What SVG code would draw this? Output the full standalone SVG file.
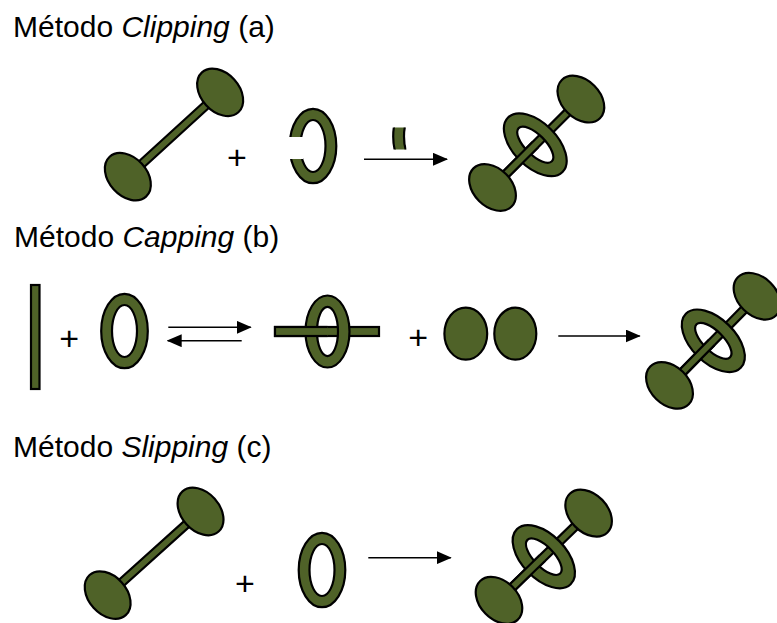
<svg xmlns="http://www.w3.org/2000/svg" xmlns:xlink="http://www.w3.org/1999/xlink" width="777" height="623" viewBox="0 0 777 623">
  <style>
    .g { fill: #4F6228; stroke: #000; stroke-width: 2.2; }
    .ring { fill: #4F6228; fill-rule: evenodd; stroke: #000; stroke-width: 2.2; }
    .lbl { font-family: "Liberation Sans", Arial, sans-serif; font-size: 30px; fill: #000; }
    .plus { font-family: "Liberation Sans", Arial, sans-serif; font-size: 34px; fill: #000; text-anchor: middle; }
    .arrow { fill: none; stroke: #000; stroke-width: 1.4; marker-end: url(#ah); }
  </style>
  <defs>
    <marker id="ah" viewBox="0 0 15 13" refX="14" refY="6.5" markerWidth="15" markerHeight="13" markerUnits="userSpaceOnUse" orient="auto">
      <path d="M0,0 L15,6.5 L0,13 Z" fill="#000"/>
    </marker>
    <!-- upright ring, centred on the origin -->
    <path id="ringU" class="ring" d="M-23.3,0 a23.3,37.2 0 1,0 46.6,0 a23.3,37.2 0 1,0 -46.6,0 Z M-12.5,0 a12.5,26 0 1,0 25,0 a12.5,26 0 1,0 -25,0 Z"/>
    <!-- ring threaded on an axle, in axle-aligned coordinates -->
    <path id="ringT" class="ring" d="M-22,0 a22,38.5 0 1,0 44,0 a22,38.5 0 1,0 -44,0 Z M-10,0 a10,23.5 0 1,0 20,0 a10,23.5 0 1,0 -20,0 Z"/>
    <rect id="axle" class="g" x="-62.5" y="-3.9" width="125" height="7.8"/>
    <ellipse id="cap" class="g" rx="19" ry="27"/>
    <clipPath id="leftHalf"><rect x="-100" y="-60" width="98" height="120"/></clipPath>
    <clipPath id="leftHalfB"><rect x="260" y="300" width="67.5" height="60"/></clipPath>
    <clipPath id="gapClip"><rect x="286" y="137" width="17" height="22"/></clipPath>
  </defs>

  <!-- section titles -->
  <text class="lbl" x="13" y="37">Método <tspan font-style="italic">Clipping</tspan> (a)</text>
  <text class="lbl" x="14" y="247">Método <tspan font-style="italic">Capping</tspan> (b)</text>
  <text class="lbl" x="13" y="456.5">Método <tspan font-style="italic">Slipping</tspan> (c)</text>

  <!-- (a) clipping -->
  <g id="a-dumbbell" transform="translate(174,134.5) rotate(-42.4)">
    <use xlink:href="#axle"/>
    <use xlink:href="#cap" x="-62.5"/>
    <use xlink:href="#cap" x="62.5"/>
  </g>
  <text id="a-plus" class="plus" x="237" y="169">+</text>
  <g id="a-open-ring">
    <use xlink:href="#ringU" transform="translate(313,146)"/>
    <rect x="286" y="137" width="17" height="22" fill="#fff"/>
  </g>
  <g id="a-ring-piece" transform="translate(103.5,-9.5)" clip-path="url(#gapClip)">
    <use xlink:href="#ringU" transform="translate(313,146)"/>
  </g>
  <g id="a-rotaxane" transform="translate(536.7,143.3) rotate(-45)">
    <use xlink:href="#axle"/>
    <use xlink:href="#ringT" transform="translate(-2,0)"/>
    <use xlink:href="#axle" clip-path="url(#leftHalf)"/>
    <use xlink:href="#cap" x="-62.5"/>
    <use xlink:href="#cap" x="62.5"/>
  </g>

  <!-- (b) capping -->
  <g id="b-axle">
    <rect class="g" x="31" y="285" width="8.5" height="104"/>
  </g>
  <text id="b-plus1" class="plus" x="69.3" y="350">+</text>
  <g id="b-ring">
    <use xlink:href="#ringU" transform="translate(124.5,331)"/>
  </g>
  <g id="b-threaded">
    <rect class="g" x="275" y="327" width="104" height="9"/>
    <path class="ring" d="M305.5,331.5 a22,36 0 1,0 44,0 a22,36 0 1,0 -44,0 Z M317,331.5 a10.5,24.5 0 1,0 21,0 a10.5,24.5 0 1,0 -21,0 Z"/>
    <rect class="g" x="275" y="327" width="104" height="9" clip-path="url(#leftHalfB)"/>
  </g>
  <text id="b-plus2" class="plus" x="418.3" y="349">+</text>
  <g id="b-stoppers">
    <ellipse class="g" cx="465.8" cy="333.7" rx="21.4" ry="26"/>
    <ellipse class="g" cx="515.3" cy="333.7" rx="21" ry="26"/>
  </g>
  <g id="b-rotaxane" transform="translate(713.3,340.8) rotate(-45.5)">
    <use xlink:href="#axle"/>
    <use xlink:href="#ringT"/>
    <use xlink:href="#axle" clip-path="url(#leftHalf)"/>
    <use xlink:href="#cap" x="-62.5"/>
    <use xlink:href="#cap" x="62.5"/>
  </g>

  <!-- (c) slipping -->
  <g id="c-dumbbell" transform="translate(154.1,553.3) rotate(-42)">
    <use xlink:href="#axle"/>
    <use xlink:href="#cap" x="-62.5"/>
    <use xlink:href="#cap" x="62.5"/>
  </g>
  <text id="c-plus" class="plus" x="245" y="595">+</text>
  <g id="c-ring">
    <use xlink:href="#ringU" transform="translate(322,570)"/>
  </g>
  <g id="c-rotaxane" transform="translate(543.8,556.7) rotate(-44.2)">
    <use xlink:href="#axle"/>
    <use xlink:href="#ringT"/>
    <use xlink:href="#axle" clip-path="url(#leftHalf)"/>
    <use xlink:href="#cap" x="-62.5"/>
    <use xlink:href="#cap" x="62.5"/>
  </g>

  <!-- reaction arrows -->
  <g id="connectors">
    <path class="arrow" d="M364,159.3 H447"/>
    <path class="arrow" d="M168.3,327.3 H250.7"/>
    <path class="arrow" d="M241.7,340.7 H167.7"/>
    <path class="arrow" d="M558.3,336 H639.7"/>
    <path class="arrow" d="M368.3,557.7 H450.7"/>
  </g>
</svg>
